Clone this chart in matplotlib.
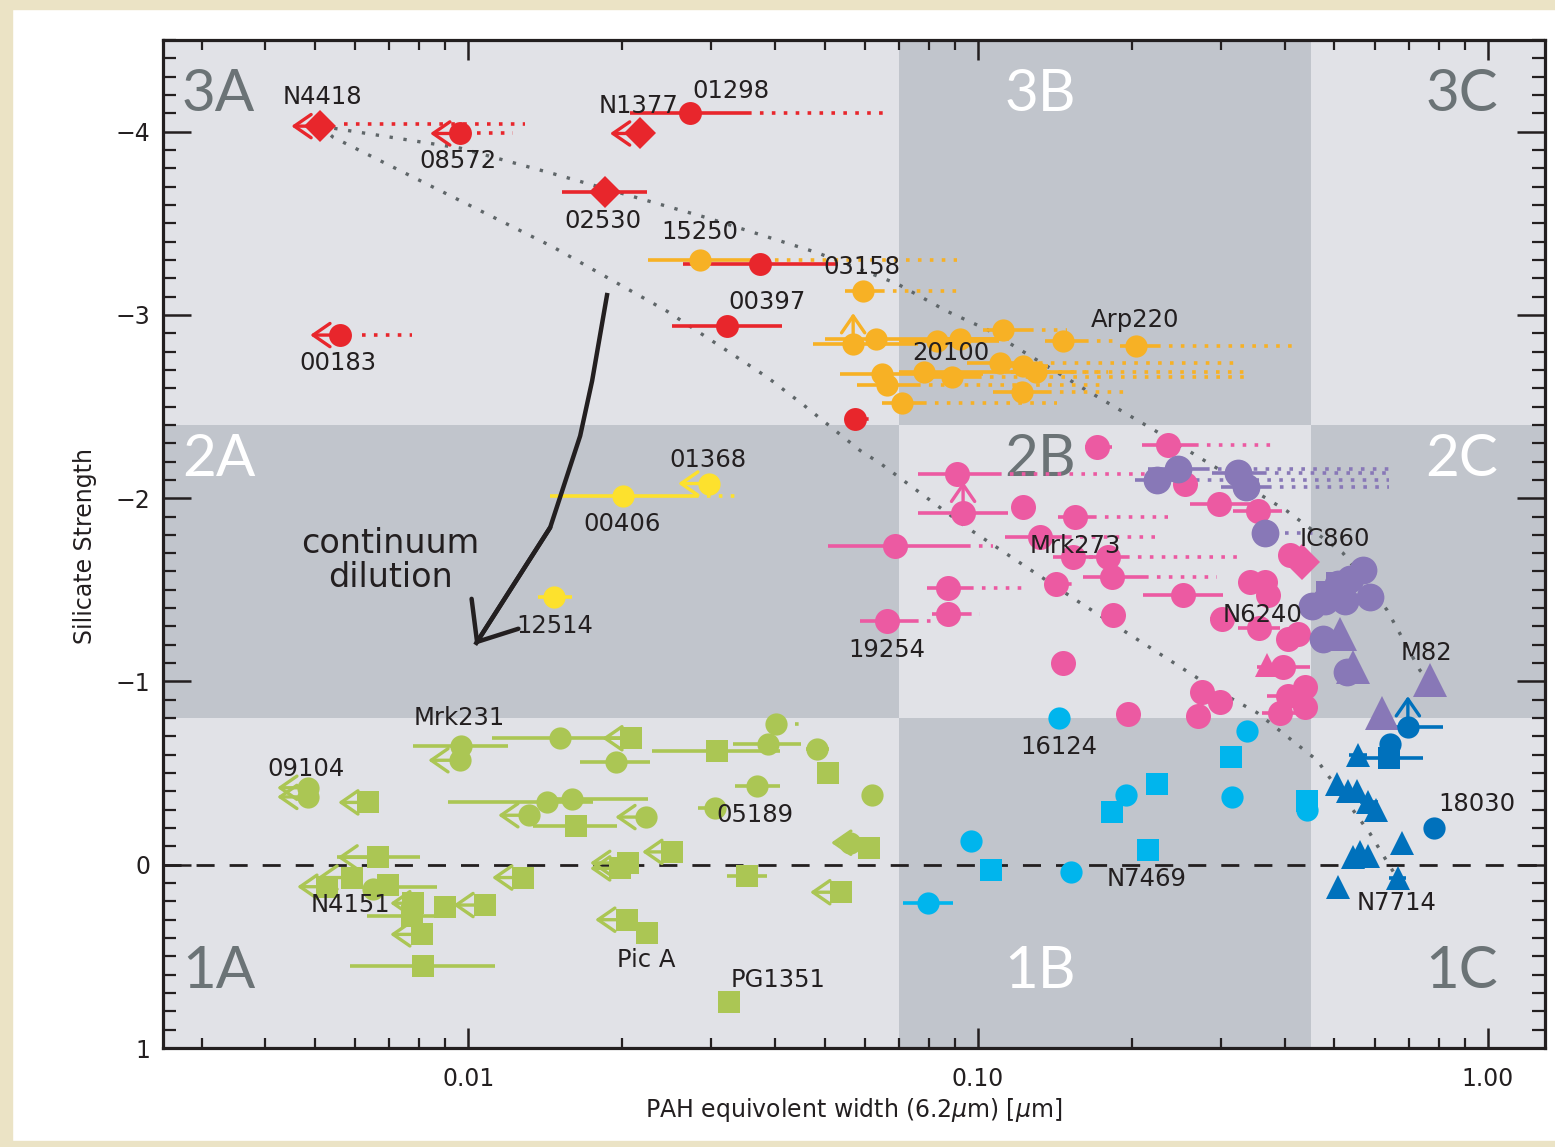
import matplotlib
matplotlib.use("Agg")
import matplotlib.pyplot as plt
from matplotlib.patches import Rectangle
from matplotlib.ticker import (FixedLocator, FixedFormatter, MultipleLocator,
                               LogLocator, NullFormatter)

plt.rcParams['font.family'] = ['DejaVu Sans']

# class boundaries of the fork diagram
ew_cuts = [0.07, 0.45]
sil_cuts = [-2.4, -0.8]
class_names = [["3A", "3B", "3C"], ["2A", "2B", "2C"], ["1A", "1B", "1C"]]

# points: (PAH EW, S_sil, marker); bars / dotted ranges: (S_sil, x_lo, x_hi)
# upper limits: (x, y, x_tip); lower limits in S_sil: (x, y, y_tip)
red_pts = [(0.00513, -4.03, 'D'), (0.00964, -3.99, 'o'), (0.02175, -3.99, 'D'),
           (0.02724, -4.10, 'o'), (0.01856, -3.67, 'D'), (0.03737, -3.28, 'o'),
           (0.03219, -2.94, 'o'), (0.00561, -2.89, 'o'), (0.05741, -2.43, 'o')]
red_bars = [(-4.10, 0.02078, 0.0354), (-3.67, 0.01528, 0.02244),
            (-3.28, 0.0264, 0.05314), (-2.94, 0.02512, 0.04128)]
red_dots = [(-4.04, 0.0057, 0.01294), (-3.99, 0.0104, 0.01225),
            (-4.10, 0.0354, 0.0672), (-2.89, 0.0062, 0.00776), (-2.43, 0.0600, 0.0625)]
red_lims = [(0.00513, -4.03, 0.0045), (0.00964, -3.99, 0.00842),
            (0.02175, -3.99, 0.01897), (0.00561, -2.89, 0.0049)]

orange_pts = [(0.02851, -3.30, 'o'), (0.05949, -3.13, 'o'), (0.05689, -2.84, 'o'),
              (0.06309, -2.87, 'o'), (0.08313, -2.86, 'o'), (0.09221, -2.87, 'o'),
              (0.1119, -2.92, 'o'), (0.1469, -2.86, 'o'), (0.2041, -2.83, 'o'),
              (0.06486, -2.68, 'o'), (0.06631, -2.62, 'o'), (0.07834, -2.69, 'o'),
              (0.08892, -2.66, 'o'), (0.1104, -2.74, 'o'), (0.1225, -2.72, 'o'),
              (0.1300, -2.69, 'o'), (0.1220, -2.58, 'o'), (0.07096, -2.52, 'o')]
orange_bars = [(-3.30, 0.02254, 0.03788), (-3.13, 0.05486, 0.06457),
               (-2.84, 0.04748, 0.0762), (-2.87, 0.0500, 0.1100), (-2.86, 0.0700, 0.1100),
               (-2.87, 0.0850, 0.1150), (-2.92, 0.1023, 0.1265), (-2.86, 0.1353, 0.1622),
               (-2.83, 0.1898, 0.2244), (-2.68, 0.05361, 0.1023), (-2.62, 0.05793, 0.0759),
               (-2.69, 0.0700, 0.1100), (-2.66, 0.0800, 0.1000), (-2.74, 0.0950, 0.1250),
               (-2.72, 0.1100, 0.1370), (-2.69, 0.1130, 0.1535), (-2.58, 0.1069, 0.1371),
               (-2.52, 0.06486, 0.0780)]
orange_dots = [(-3.30, 0.03788, 0.09099), (-3.13, 0.06457, 0.09346),
               (-2.92, 0.1265, 0.1494), (-2.86, 0.1622, 0.1898), (-2.83, 0.2244, 0.4128),
               (-2.62, 0.0759, 0.1791), (-2.69, 0.1100, 0.1800), (-2.66, 0.1000, 0.3360),
               (-2.74, 0.1250, 0.3191), (-2.69, 0.1535, 0.3369), (-2.58, 0.1371, 0.1959),
               (-2.52, 0.0780, 0.1429)]
orange_ups = [(0.05689, -2.84, -3.01)]

yellow_pts = [(0.02014, -2.01, 'o'), (0.0297, -2.08, 'o'), (0.01474, -1.46, 'o')]
yellow_bars = [(-2.01, 0.01448, 0.02787), (-1.46, 0.01371, 0.0160)]
yellow_dots = [(-2.01, 0.02787, 0.03384)]
yellow_lims = [(0.0297, -2.08, 0.02581)]

pink_pts = [(0.1710, -2.28, 'o'), (0.2358, -2.29, 'o'), (0.0910, -2.13, 'o'),
            (0.09346, -1.92, 'o'), (0.1225, -1.95, 'o'), (0.1549, -1.90, 'o'),
            (0.06874, -1.74, 'o'), (0.1323, -1.79, 'o'), (0.1535, -1.68, 'o'),
            (0.1799, -1.68, 'o'), (0.1832, -1.57, 'o'), (0.0873, -1.51, 'o'),
            (0.0873, -1.37, 'o'), (0.1422, -1.53, 'o'), (0.2523, -1.47, 'o'),
            (0.06631, -1.33, 'o'), (0.1840, -1.36, 'o'), (0.1469, -1.10, 'o'),
            (0.2969, -1.97, 'o'), (0.3540, -1.93, 'o'), (0.2546, -2.08, 'o'),
            (0.4092, -1.69, 'o'), (0.4315, -1.65, 'D'), (0.3414, -1.54, 'o'),
            (0.3654, -1.54, 'o'), (0.3705, -1.47, 'o'), (0.3009, -1.34, 'o'),
            (0.3556, -1.29, 'o'), (0.4055, -1.23, 'o'), (0.4242, -1.26, 'o'),
            (0.3688, -1.09, '^'), (0.3963, -1.08, 'o'), (0.2750, -0.94, 'o'),
            (0.2982, -0.89, 'o'), (0.2700, -0.81, 'o'), (0.4055, -0.92, 'o'),
            (0.4375, -0.97, 'o'), (0.3909, -0.83, 'o'), (0.4375, -0.86, 'o'),
            (0.1968, -0.82, 'o')]
pink_bars = [(-2.28, 0.1622, 0.1832), (-2.29, 0.2097, 0.2664), (-2.13, 0.0762, 0.1094),
             (-1.92, 0.0762, 0.1145), (-1.90, 0.1435, 0.1681), (-1.74, 0.0508, 0.0952),
             (-1.79, 0.1129, 0.1500), (-1.68, 0.1403, 0.1681), (-1.68, 0.1650, 0.1950),
             (-1.57, 0.1607, 0.2126), (-1.51, 0.0794, 0.0965), (-1.37, 0.0813, 0.0956),
             (-1.47, 0.2106, 0.3020), (-1.33, 0.0587, 0.0752), (-1.97, 0.2604, 0.3414),
             (-1.93, 0.3162, 0.3946), (-1.34, 0.2850, 0.3150), (-1.29, 0.3236, 0.3909),
             (-1.08, 0.3524, 0.4477), (-0.92, 0.3688, 0.4200), (-0.83, 0.3600, 0.4200)]
pink_dots = [(-2.29, 0.2664, 0.3873), (-2.13, 0.1094, 0.2145), (-1.90, 0.1681, 0.2358),
             (-1.74, 0.0952, 0.1069), (-1.79, 0.1500, 0.2223), (-1.68, 0.1950, 0.3308),
             (-1.57, 0.2126, 0.2942), (-1.51, 0.0965, 0.1225), (-1.37, 0.0956, 0.1009),
             (-1.33, 0.0752, 0.0843), (-1.53, 0.1500, 0.1530)]
pink_ups = [(0.09346, -1.92, -2.09)]

purple_pts = [(0.2244, -2.10, 'o'), (0.2466, -2.16, 'o'), (0.3236, -2.14, 'o'),
              (0.3353, -2.06, 'o'), (0.3654, -1.81, 'o'), (0.5130, -1.52, 's'),
              (0.4900, -1.47, 's'), (0.4517, -1.41, 'o'), (0.4786, -1.44, 'o'),
              (0.5081, -1.53, 'o'), (0.5358, -1.56, 'o'), (0.5688, -1.61, 'o'),
              (0.5870, -1.46, 'o'), (0.5244, -1.44, 'o'), (0.4749, -1.23, 'o'),
              (0.5129, -1.26, '^'), (0.5291, -1.05, 'o'), (0.5433, -1.08, '^'),
              (0.7693, -1.01, '^'), (0.6195, -0.83, '^')]
purple_bars = [(-2.10, 0.2032, 0.2400), (-2.16, 0.2150, 0.2800),
               (-2.14, 0.2877, 0.3622), (-2.06, 0.3000, 0.3700)]
purple_dots = [(-2.10, 0.2400, 0.6400), (-2.16, 0.2800, 0.6516),
               (-2.14, 0.3622, 0.6516), (-2.06, 0.3700, 0.6400), (-1.81, 0.4000, 0.4538)]

cyan_pts = [(0.1442, -0.80, 'o'), (0.3369, -0.73, 'o'), (0.3133, -0.59, 's'),
            (0.2244, -0.44, 's'), (0.1950, -0.38, 'o'), (0.1832, -0.29, 's'),
            (0.3148, -0.37, 'o'), (0.0970, -0.13, 'o'), (0.1060, 0.03, 's'),
            (0.2153, -0.08, 's'), (0.1521, 0.04, 'o'), (0.0798, 0.21, 'o'),
            (0.4416, -0.35, 's'), (0.4416, -0.30, 'o')]
cyan_bars = [(-0.80, 0.1390, 0.1500), (-0.13, 0.0940, 0.1000), (0.21, 0.07128, 0.08933),
             (-0.35, 0.4250, 0.4600), (-0.30, 0.4250, 0.4600)]

blue_pts = [(0.6966, -0.75, 'o'), (0.6426, -0.66, 'o'), (0.6397, -0.58, 's'),
            (0.5559, -0.60, '^'), (0.5058, -0.44, '^'), (0.5315, -0.40, '^'),
            (0.5534, -0.40, '^'), (0.5821, -0.34, '^'), (0.6031, -0.30, '^'),
            (0.7834, -0.20, 'o'), (0.6776, -0.12, '^'), (0.5433, -0.04, '^'),
            (0.5610, -0.07, '^'), (0.5821, -0.05, '^'), (0.6660, 0.07, '^'),
            (0.5081, 0.12, '^')]
blue_bars = [(-0.75, 0.6223, 0.8163), (-0.58, 0.5688, 0.7456), (-0.60, 0.5350, 0.5800),
             (-0.34, 0.5600, 0.6100), (0.07, 0.6400, 0.6900)]
blue_ups = [(0.6966, -0.75, -0.92)]

green_pts = [(0.00969, -0.65, 'o'), (0.00964, -0.57, 'o'), (0.00486, -0.42, 'o'),
             (0.00486, -0.37, 'o'), (0.00637, -0.34, 's'), (0.01514, -0.69, 'o'),
             (0.0209, -0.69, 's'), (0.0195, -0.56, 'o'), (0.03077, -0.62, 's'),
             (0.03873, -0.66, 'o'), (0.04833, -0.63, 'o'), (0.04018, -0.77, 'o'),
             (0.05078, -0.50, 's'), (0.03687, -0.43, 'o'), (0.06194, -0.38, 'o'),
             (0.03049, -0.31, 'o'), (0.01429, -0.34, 'o'), (0.0160, -0.36, 'o'),
             (0.01317, -0.27, 'o'), (0.01629, -0.21, 's'), (0.02234, -0.26, 'o'),
             (0.05613, -0.12, 'o'), (0.06109, -0.09, 's'), (0.02512, -0.07, 's'),
             (0.02059, -0.01, 's'), (0.01986, 0.02, 's'), (0.03524, 0.06, 's'),
             (0.05387, 0.15, 's'), (0.0205, 0.30, 's'), (0.02244, 0.37, 's'),
             (0.03249, 0.75, 's'), (0.00666, -0.04, 's'), (0.00529, 0.12, 's'),
             (0.00592, 0.07, 's'), (0.00651, 0.13, 'o'), (0.00697, 0.11, 's'),
             (0.0078, 0.21, 's'), (0.00776, 0.28, 's'), (0.00812, 0.38, 's'),
             (0.00901, 0.23, 's'), (0.0108, 0.22, 's'), (0.01282, 0.07, 's'),
             (0.00816, 0.55, 's')]
green_bars = [(-0.65, 0.0078, 0.01198), (-0.69, 0.01114, 0.0200), (-0.56, 0.01658, 0.02275),
              (-0.62, 0.02295, 0.04093), (-0.66, 0.0330, 0.0450), (-0.63, 0.0460, 0.0510),
              (-0.77, 0.0385, 0.0420), (-0.43, 0.03338, 0.04093), (-0.31, 0.02825, 0.0310),
              (-0.34, 0.00914, 0.01758), (-0.36, 0.0145, 0.0225), (-0.21, 0.01341, 0.01959),
              (0.06, 0.03219, 0.03855), (-0.04, 0.00554, 0.00805), (0.12, 0.0064, 0.00869),
              (0.28, 0.00634, 0.00935), (0.55, 0.00587, 0.01129), (0.75, 0.0315, 0.0335)]
green_dots = [(-0.77, 0.0438, 0.0452)]
green_lims = [(0.00964, -0.57, 0.00835), (0.00486, -0.42, 0.00422), (0.00486, -0.37, 0.00422),
              (0.00637, -0.34, 0.00556), (0.0209, -0.69, 0.01832), (0.01317, -0.27, 0.01145),
              (0.02234, -0.26, 0.01943), (0.05613, -0.12, 0.0515), (0.02512, -0.07, 0.02194),
              (0.02059, -0.01, 0.01734), (0.01986, 0.02, 0.01734), (0.05387, 0.15, 0.04684),
              (0.0205, 0.30, 0.01774), (0.00666, -0.04, 0.00554), (0.00529, 0.12, 0.00462),
              (0.00592, 0.07, 0.00506), (0.00812, 0.38, 0.00703), (0.0078, 0.21, 0.00703),
              (0.0108, 0.22, 0.00935), (0.01282, 0.07, 0.01114)]

# mixing curves from NGC 4418 towards M82 and NGC 7714
mix_upper_x = [0.00513, 0.0054, 0.00965, 0.0147, 0.0294, 0.0483, 0.0694, 0.0869,
               0.1042, 0.1606, 0.2348, 0.4036, 0.5198, 0.6339, 0.7359, 0.7693]
mix_upper_y = [-4.03, -4.02, -3.91, -3.77, -3.53, -3.34, -3.17, -3.02,
               -2.92, -2.60, -2.33, -1.93, -1.70, -1.39, -1.06, -1.01]
mix_lower_x = [0.00513, 0.00543, 0.01468, 0.02455, 0.0386, 0.0454, 0.0587, 0.0643,
               0.0951, 0.1564, 0.2943, 0.3524, 0.4623, 0.5872, 0.6427, 0.6600]
mix_lower_y = [-4.03, -3.97, -3.37, -3.02, -2.66, -2.51, -2.26, -2.19,
               -1.84, -1.44, -0.95, -0.83, -0.57, -0.17, 0.01, 0.06]

# continuum dilution track
dil_x = [0.01875, 0.0175, 0.01658, 0.01448, 0.01032]
dil_y = [-3.12, -2.64, -2.34, -1.84, -1.20]

names = [("N4418", 0.00518, -4.19), ("08572", 0.00956, -3.84), ("N1377", 0.02154, -4.14),
         ("01298", 0.03277, -4.22), ("02530", 0.01838, -3.51), ("15250", 0.02851, -3.45),
         ("03158", 0.05922, -3.26), ("00397", 0.03855, -3.07), ("00183", 0.00556, -2.74),
         ("20100", 0.0885, -2.79), ("Arp220", 0.2032, -2.97), ("01368", 0.02954, -2.21),
         ("00406", 0.02004, -1.86), ("12514", 0.01481, -1.30), ("19254", 0.0663, -1.17),
         ("Mrk273", 0.1549, -1.74), ("IC860", 0.5013, -1.78), ("N6240", 0.3607, -1.36),
         ("M82", 0.7581, -1.155), ("Mrk231", 0.0096, -0.80), ("09104", 0.00481, -0.52),
         ("05189", 0.03652, -0.27), ("N4151", 0.00587, 0.22), ("Pic A", 0.02234, 0.52),
         ("PG1351", 0.0405, 0.63), ("16124", 0.1442, -0.64), ("N7469", 0.2145, 0.08),
         ("18030", 0.951, -0.33), ("N7714", 0.6627, 0.21)]

LIGHT = '#e1e2e7'
DARK = '#c1c5cc'
INK = '#231f20'


def draw_group(ax, color, pts, bars=(), dots=(), lims=(), ups=(), ms=16, tri_ms=17):
    for y, x0, x1 in dots:
        ax.plot([x0, x1], [y, y], color=color, lw=2.6, ls=(0, (1, 2.3)), zorder=2)
    for y, x0, x1 in bars:
        ax.plot([x0, x1], [y, y], color=color, lw=2.6, solid_capstyle='butt', zorder=3)
    aprops = dict(arrowstyle='->,head_length=0.55,head_width=0.38', color=color,
                  lw=2.4, shrinkA=0, shrinkB=0, mutation_scale=22)
    for x, y, tip in lims:
        ax.annotate('', xy=(tip, y), xytext=(x, y), arrowprops=aprops, zorder=3)
    for x, y, tip in ups:
        ax.annotate('', xy=(x, tip), xytext=(x, y), arrowprops=aprops, zorder=3)
    for x, y, m in pts:
        size = tri_ms if m == '^' else ms
        ax.plot([x], [y], marker=m, ms=size, color=color, mew=0, ls='none', zorder=4)


fig = plt.figure(figsize=(15.55, 11.47), dpi=100, facecolor='white')
# cream border strips
for rect in [(0, 0, 12 / 1555, 1), (0, 1 - 9 / 1147, 1, 9 / 1147), (0, 0, 1, 6 / 1147)]:
    fig.patches.append(Rectangle(rect[:2], rect[2], rect[3], transform=fig.transFigure,
                                 color='#ebe3c5', zorder=0))

ax = fig.add_axes([163 / 1555, 1 - 1048 / 1147, (1545 - 163) / 1555, (1048 - 40) / 1147])
ax.set_xscale('log')
ax.set_xlim(0.00252, 1.294)
ax.set_ylim(1.0, -4.5)
ax.set_facecolor(LIGHT)

xcols = [ax.get_xlim()[0], ew_cuts[0], ew_cuts[1], ax.get_xlim()[1]]
yrows = [-4.5, sil_cuts[0], sil_cuts[1], 1.0]
label_x = [0.00324, 0.1323, 0.889]
label_y = [-4.20, -2.21, 0.58]
for r in range(3):
    for c in range(3):
        dark = (r + c) % 2 == 1
        if dark:
            ax.add_patch(Rectangle((xcols[c], yrows[r]), xcols[c + 1] - xcols[c],
                                   yrows[r + 1] - yrows[r], color=DARK, lw=0, zorder=0))
        ax.text(label_x[c], label_y[r], class_names[r][c], ha='center', va='center',
                fontsize=42, family=['Lato', 'DejaVu Sans'], fontweight='normal',
                color='white' if dark else '#6b7376', zorder=1)

ax.axhline(0, color=INK, lw=2.0, ls=(0, (6.5, 5.4)), zorder=1.5)
ax.plot(mix_upper_x, mix_upper_y, color='#5f6669', lw=2.4, ls=(0, (1, 3.2)), zorder=1.6)
ax.plot(mix_lower_x, mix_lower_y, color='#5f6669', lw=2.4, ls=(0, (1, 3.2)), zorder=1.6)

draw_group(ax, '#abc654', green_pts, green_bars, green_dots, green_lims, ms=16)
draw_group(ax, '#fde12d', yellow_pts, yellow_bars, yellow_dots, yellow_lims, ms=16)
draw_group(ax, '#f7b125', orange_pts, orange_bars, orange_dots, ups=orange_ups, ms=16)
draw_group(ax, '#e8262c', red_pts, red_bars, red_dots, red_lims, ms=16.5)
draw_group(ax, '#ec5aa2', pink_pts, pink_bars, pink_dots, ups=pink_ups, ms=18, tri_ms=17)
draw_group(ax, '#8878b7', purple_pts, purple_bars, purple_dots, ms=20, tri_ms=24)
draw_group(ax, '#00b5ed', cyan_pts, cyan_bars, ms=16)
draw_group(ax, '#0071bc', blue_pts, blue_bars, ups=blue_ups, ms=16, tri_ms=17)

# continuum dilution arrow
ax.plot(dil_x, dil_y, color=INK, lw=3.2, zorder=5, solid_capstyle='butt')
ax.annotate('', xy=(dil_x[-1], dil_y[-1]), xytext=(dil_x[-2], dil_y[-2]),
            arrowprops=dict(arrowstyle='->,head_length=0.6,head_width=0.5', color=INK,
                            lw=3.2, shrinkA=0, shrinkB=0, mutation_scale=40), zorder=5)
ax.text(0.00703, -1.66, "continuum\ndilution", ha='center', va='center', fontsize=24,
        color=INK, linespacing=1.05, zorder=5)

for txt, x, y in names:
    ax.text(x, y, txt, ha='center', va='center', fontsize=17.5, color=INK, zorder=6)

# axes styling
ax.xaxis.set_major_locator(FixedLocator([0.01, 0.1, 1.0]))
ax.xaxis.set_major_formatter(FixedFormatter(['0.01', '0.10', '1.00']))
ax.xaxis.set_minor_locator(LogLocator(base=10, subs=range(2, 10), numticks=20))
ax.xaxis.set_minor_formatter(NullFormatter())
ax.yaxis.set_major_locator(MultipleLocator(1))
ax.yaxis.set_minor_locator(MultipleLocator(0.1))
ax.tick_params(which='both', direction='in', top=True, right=True, color=INK,
               labelsize=17, labelcolor=INK)
ax.tick_params(axis='x', which='major', length=14.5, width=1.8, pad=14)
ax.tick_params(axis='x', which='minor', length=7.5, width=1.6)
ax.tick_params(axis='y', which='major', length=20, width=1.8, pad=9)
ax.tick_params(axis='y', which='minor', length=9.5, width=1.6)
for sp in ax.spines.values():
    sp.set_linewidth(2.3)
    sp.set_color(INK)
    sp.set_zorder(7)

fig.text(854 / 1555, 1 - 1110 / 1147, r"PAH equivolent width (6.2$\mu$m) [$\mu$m]",
         ha='center', va='center', fontsize=17, color=INK)
fig.text(85 / 1555, 1 - 546 / 1147, "Silicate Strength", rotation=90,
         ha='center', va='center', fontsize=17, color=INK)

fig.savefig("out.png", dpi=100, facecolor=fig.get_facecolor())
